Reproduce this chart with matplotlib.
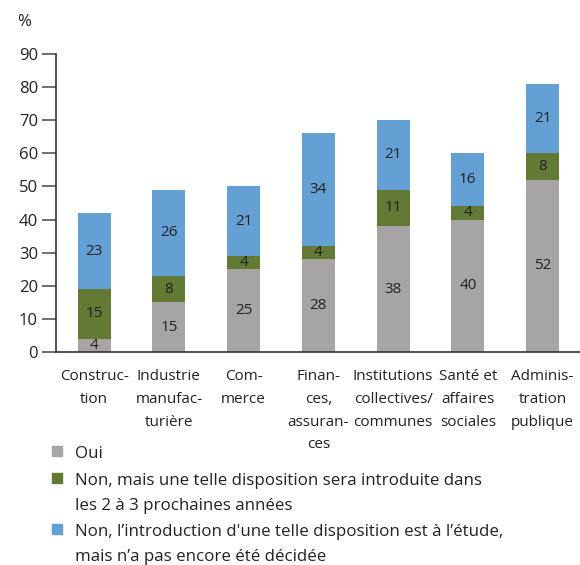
import numpy as np
import matplotlib.pyplot as plt
from matplotlib.patches import Rectangle

plt.rcParams['font.family'] = ['Open Sans', 'DejaVu Sans']

categories = ['Construc-\ntion', 'Industrie\nmanufac-\nturière', 'Com-\nmerce',
              'Finan-\nces,\nassuran-\nces', 'Institutions\ncollectives/\ncommunes',
              'Santé et\naffaires\nsociales', 'Adminis-\ntration\npublique']
oui = [4, 15, 25, 28, 38, 40, 52]
non_introduite = [15, 8, 4, 4, 11, 4, 8]
non_etude = [23, 26, 21, 34, 21, 16, 21]
series_labels = ['Oui',
                 'Non, mais une telle disposition sera introduite dans\nles 2 à 3 prochaines années',
                 'Non, l\u2019introduction d\'une telle disposition est à l\u2019étude,\nmais n\u2019a pas encore été décidée']
colors = ['#a6a4a5', '#627a34', '#64a0d4']

fig = plt.figure(figsize=(5.8, 5.65), dpi=100)
ax = fig.add_axes([0.0966, 0.377, 0.9034, 0.5274])

x = np.arange(len(categories))
w = 0.44
bottom = np.zeros(len(categories))
for vals, c in zip([oui, non_introduite, non_etude], colors):
    bars = ax.bar(x, vals, w, bottom=bottom, color=c, zorder=2)
    ax.bar_label(bars, labels=[str(v) for v in vals], label_type='center',
                 fontsize=11, color='#222222')
    bottom += np.array(vals)

ax.set_xlim(-0.51, 6.5)
ax.set_ylim(0, 90)
ax.set_yticks(range(0, 91, 10))
ax.tick_params(axis='y', length=10, width=1.2, color='#555555', labelsize=12,
               labelcolor='#222222', pad=3)
ax.set_xticks(x)
ax.set_xticklabels(categories, fontsize=11, linespacing=1.72, color='#222222')
ax.tick_params(axis='x', length=0, pad=12)
for s in ['top', 'right']:
    ax.spines[s].set_visible(False)
ax.spines['left'].set_color('#333333')
ax.spines['bottom'].set_color('#333333')
ax.spines['left'].set_linewidth(1.2)
ax.spines['bottom'].set_linewidth(1.2)

fig.text(24 / 580, 1 - 22 / 565, '%', fontsize=12, color='#222222',
         ha='center', va='center')

# legend drawn by hand
ys = [451, 478, 529]
for lab, c, yp in zip(series_labels, colors, ys):
    fig.patches.append(Rectangle((52 / 580, 1 - (yp + 5) / 565), 10 / 580, 10 / 565,
                                 transform=fig.transFigure, color=c))
    fig.text(75 / 580, 1 - (yp - 5) / 565, lab, fontsize=12.2, color='#222222',
             ha='left', va='top', linespacing=1.72)

fig.savefig('out.png', dpi=100)
